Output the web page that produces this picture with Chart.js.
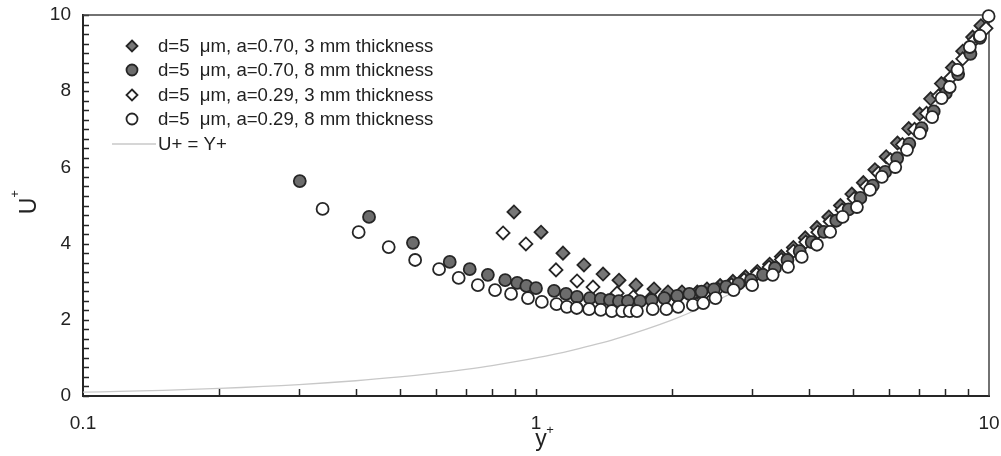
<!DOCTYPE html>
<html lang="en">
<head>
    <meta charset="UTF-8">
    <title>U+ vs y+</title>
    <script src="https://cdn.jsdelivr.net/npm/chart.js"></script>
    <style>
        html, body { margin: 0; padding: 0; background: #fff; }
        #wrap { width: 1001px; height: 456px; position: relative; }
    </style>
</head>
<body>
<div id="wrap"><canvas id="chartCanvas"></canvas></div>
<script>
// d=5 um, a=0.70, 3 mm thickness (grey diamonds)
const xA = [0.894, 1.026, 1.147, 1.276, 1.406, 1.525, 1.662, 1.822, 1.956, 2.10, 2.27, 2.385, 2.55, 2.72, 2.9, 3.08, 3.28, 3.48, 3.7, 3.93, 4.17, 4.43, 4.7, 4.98, 5.28, 5.6, 5.93, 6.28, 6.65, 7.03, 7.43, 7.85, 8.3, 8.75, 9.2, 9.6];
const yA = [4.83, 4.30, 3.75, 3.44, 3.20, 3.04, 2.91, 2.81, 2.73, 2.73, 2.73, 2.81, 2.90, 3.01, 3.13, 3.27, 3.46, 3.66, 3.90, 4.15, 4.42, 4.70, 5.00, 5.30, 5.60, 5.94, 6.28, 6.64, 7.02, 7.40, 7.80, 8.20, 8.62, 9.05, 9.42, 9.72];

// d=5 um, a=0.70, 8 mm thickness (grey circles)
const xB = [0.301, 0.428, 0.535, 0.645, 0.714, 0.783, 0.855, 0.909, 0.952, 1.0, 1.096, 1.165, 1.232, 1.315, 1.39, 1.456, 1.524, 1.595, 1.697, 1.80, 1.92, 2.05, 2.18, 2.32, 2.47, 2.63, 2.80, 2.98, 3.17, 3.37, 3.59, 3.82, 4.06, 4.32, 4.6, 4.9, 5.2, 5.54, 5.9, 6.27, 6.67, 7.1, 7.55, 8.03, 8.55, 9.1, 9.55];
const yB = [5.64, 4.70, 4.02, 3.52, 3.33, 3.18, 3.04, 2.97, 2.89, 2.83, 2.76, 2.68, 2.60, 2.57, 2.55, 2.52, 2.49, 2.49, 2.49, 2.52, 2.57, 2.63, 2.68, 2.74, 2.80, 2.87, 2.95, 3.04, 3.18, 3.36, 3.57, 3.80, 4.04, 4.31, 4.60, 4.90, 5.20, 5.52, 5.88, 6.24, 6.62, 7.03, 7.47, 7.95, 8.45, 8.98, 9.40];

// d=5 um, a=0.29, 3 mm thickness (open diamonds)
const xC = [0.846, 0.95, 1.107, 1.232, 1.336, 1.51, 1.64, 1.785, 1.92, 2.05, 2.2, 2.36, 2.52, 2.7, 2.88, 3.07, 3.27, 3.48, 3.7, 3.94, 4.19, 4.46, 4.74, 5.04, 5.36, 5.7, 6.06, 6.44, 6.85, 7.28, 7.74, 8.23, 8.75, 9.3, 9.85];
const yC = [4.28, 3.99, 3.31, 3.02, 2.86, 2.70, 2.60, 2.55, 2.55, 2.58, 2.62, 2.70, 2.80, 2.92, 3.05, 3.20, 3.38, 3.58, 3.80, 4.04, 4.30, 4.58, 4.88, 5.18, 5.50, 5.85, 6.20, 6.60, 7.00, 7.42, 7.88, 8.35, 8.85, 9.35, 9.65];

// d=5 um, a=0.29, 8 mm thickness (open circles)
const xD = [0.338, 0.406, 0.473, 0.541, 0.611, 0.675, 0.744, 0.812, 0.881, 0.96, 1.03, 1.11, 1.17, 1.23, 1.31, 1.39, 1.47, 1.55, 1.61, 1.67, 1.81, 1.94, 2.06, 2.22, 2.34, 2.49, 2.73, 3.0, 3.33, 3.60, 3.86, 4.17, 4.46, 4.75, 5.11, 5.46, 5.80, 6.21, 6.59, 7.04, 7.49, 7.86, 8.19, 8.52, 9.07, 9.55, 9.98];
const yD = [4.91, 4.30, 3.91, 3.57, 3.33, 3.10, 2.91, 2.78, 2.68, 2.57, 2.47, 2.41, 2.34, 2.31, 2.28, 2.26, 2.23, 2.23, 2.23, 2.23, 2.28, 2.28, 2.34, 2.39, 2.44, 2.57, 2.78, 2.91, 3.18, 3.39, 3.65, 3.97, 4.31, 4.70, 4.96, 5.41, 5.75, 6.01, 6.46, 6.90, 7.32, 7.82, 8.11, 8.56, 9.16, 9.45, 9.97];

// U+ = Y+ reference line
const lineX = [0.1, 0.12, 0.15, 0.2, 0.25, 0.3, 0.4, 0.5, 0.6, 0.7, 0.8, 1, 1.2, 1.5, 2, 2.5, 3, 4, 5, 6, 7, 8, 10];
const lineY = [0.1, 0.12, 0.15, 0.2, 0.25, 0.3, 0.4, 0.5, 0.6, 0.7, 0.8, 1, 1.2, 1.5, 2, 2.5, 3, 4, 5, 6, 7, 8, 10];

const yMinorTicks = [];
for (let i = 0; i <= 40; i++) yMinorTicks.push(i * 0.25);
const xMinorTicks = [0.2, 0.3, 0.4, 0.5, 0.6, 0.7, 0.8, 0.9, 1, 2, 3, 4, 5, 6, 7, 8, 9];

const FONT = "'Liberation Sans', Arial, sans-serif";
const DARK = '#262626';

function pts(xs, ys) {
    return xs.map((x, i) => ({ x: x, y: ys[i] }));
}

// tick marks inside the frame, top/right frame lines, axis titles and legend
const decorPlugin = {
    id: 'decor',
    beforeDatasetsDraw(chart) {
        const ctx = chart.ctx;
        const a = chart.chartArea;
        const xs = chart.scales.x, ys = chart.scales.y;
        ctx.save();
        ctx.strokeStyle = DARK;
        ctx.lineWidth = 1.5;
        yMinorTicks.forEach(v => {
            const py = Math.round(ys.getPixelForValue(v)) + 0.5;
            ctx.beginPath();
            ctx.moveTo(a.left, py);
            ctx.lineTo(a.left + 6, py);
            ctx.stroke();
        });
        xMinorTicks.forEach(v => {
            const px = Math.round(xs.getPixelForValue(v)) + 0.5;
            ctx.beginPath();
            ctx.moveTo(px, a.bottom);
            ctx.lineTo(px, a.bottom - 7);
            ctx.stroke();
        });
        // top and right frame
        ctx.lineWidth = 1.5;
        ctx.strokeStyle = '#444';
        ctx.beginPath();
        ctx.moveTo(a.left, a.top);
        ctx.lineTo(a.right, a.top);
        ctx.lineTo(a.right, a.bottom);
        ctx.stroke();
        ctx.restore();
    },
    afterDraw(chart) {
        const ctx = chart.ctx;
        ctx.save();
        ctx.fillStyle = '#222';
        // axis titles
        ctx.textBaseline = 'middle';
        ctx.textAlign = 'center';
        ctx.font = '23px ' + FONT;
        ctx.fillText('y', 541, 440);
        ctx.font = '13px ' + FONT;
        ctx.fillText('+', 550, 430);
        ctx.save();
        ctx.translate(30, 206);
        ctx.rotate(-Math.PI / 2);
        ctx.font = '23px ' + FONT;
        ctx.fillText('U', 0, 0);
        ctx.font = '13px ' + FONT;
        ctx.fillText('+', 12, -15);
        ctx.restore();

        // legend
        const items = [
            { label: 'd=5  \u03bcm, a=0.70, 3 mm thickness', kind: 'diamond', fill: '#777' },
            { label: 'd=5  \u03bcm, a=0.70, 8 mm thickness', kind: 'circle', fill: '#6c6c6c' },
            { label: 'd=5  \u03bcm, a=0.29, 3 mm thickness', kind: 'diamond', fill: '#fff' },
            { label: 'd=5  \u03bcm, a=0.29, 8 mm thickness', kind: 'circle', fill: '#fff' },
            { label: 'U+ = Y+', kind: 'line' }
        ];
        const rowY = [46, 70, 95, 119, 144];
        ctx.font = '18.6px ' + FONT;
        ctx.textAlign = 'left';
        items.forEach((it, i) => {
            const y = rowY[i];
            const mx = 132;
            ctx.lineWidth = 1.8;
            ctx.strokeStyle = DARK;
            ctx.fillStyle = it.fill;
            if (it.kind === 'circle') {
                ctx.beginPath();
                ctx.arc(mx, y, 5.5, 0, Math.PI * 2);
                ctx.fill();
                ctx.stroke();
            } else if (it.kind === 'diamond') {
                ctx.beginPath();
                ctx.moveTo(mx, y - 5.5);
                ctx.lineTo(mx + 5.5, y);
                ctx.lineTo(mx, y + 5.5);
                ctx.lineTo(mx - 5.5, y);
                ctx.closePath();
                ctx.fill();
                ctx.stroke();
            } else {
                ctx.strokeStyle = '#c8c8c8';
                ctx.lineWidth = 1.5;
                ctx.beginPath();
                ctx.moveTo(112, y);
                ctx.lineTo(156, y);
                ctx.stroke();
            }
            ctx.fillStyle = '#222';
            ctx.fillText(it.label, 158, y + 1);
        });
        ctx.restore();
    }
};

const markerBase = {
    showLine: false,
    borderColor: DARK,
    pointBorderColor: DARK,
    pointBorderWidth: 1.8,
    pointHoverRadius: 6,
    clip: false
};

const ctx = document.getElementById('chartCanvas').getContext('2d');
const chart = new Chart(ctx, {
    type: 'scatter',
    data: {
        datasets: [
            Object.assign({}, markerBase, {
                label: 'd=5  \u03bcm, a=0.29, 8 mm thickness',
                data: pts(xD, yD),
                pointStyle: 'circle', pointRadius: 6,
                pointBackgroundColor: '#fff', backgroundColor: '#fff',
                order: 0
            }),
            Object.assign({}, markerBase, {
                label: 'd=5  \u03bcm, a=0.70, 8 mm thickness',
                data: pts(xB, yB),
                pointStyle: 'circle', pointRadius: 6,
                pointBackgroundColor: '#6c6c6c', backgroundColor: '#6c6c6c',
                order: 1
            }),
            Object.assign({}, markerBase, {
                label: 'd=5  \u03bcm, a=0.29, 3 mm thickness',
                data: pts(xC, yC),
                pointStyle: 'rectRot', pointRadius: 6.5,
                pointBackgroundColor: '#fff', backgroundColor: '#fff',
                order: 2
            }),
            Object.assign({}, markerBase, {
                label: 'd=5  \u03bcm, a=0.70, 3 mm thickness',
                data: pts(xA, yA),
                pointStyle: 'rectRot', pointRadius: 6.5,
                pointBackgroundColor: '#777', backgroundColor: '#777',
                order: 3
            }),
            {
                label: 'U+ = Y+',
                data: pts(lineX, lineY),
                showLine: true,
                borderColor: '#c8c8c8',
                borderWidth: 1.3,
                pointRadius: 0,
                tension: 0.3,
                order: 4
            }
        ]
    },
    options: {
        responsive: true,
        maintainAspectRatio: false,
        animation: false,
        layout: { padding: { top: 15, right: 12, left: 0, bottom: 0 } },
        plugins: {
            legend: { display: false },
            tooltip: { enabled: false }
        },
        scales: {
            x: {
                type: 'logarithmic',
                min: 0.1,
                max: 10,
                grid: { display: false },
                border: { display: true, color: DARK, width: 2 },
                ticks: {
                    autoSkip: false,
                    maxRotation: 0,
                    padding: 8,
                    color: '#222',
                    font: { family: FONT, size: 19 },
                    callback: function (value) {
                        const l = Math.log10(value);
                        if (Math.abs(l - Math.round(l)) < 1e-6) return String(Number(value.toPrecision(3)));
                        return '';
                    }
                },
                afterFit: function (scale) {
                    scale.height = 60;
                    scale.paddingLeft = 0;
                    scale.paddingRight = 0;
                }
            },
            y: {
                min: 0,
                max: 10,
                grid: { display: false },
                border: { display: true, color: DARK, width: 2 },
                ticks: {
                    stepSize: 2,
                    padding: 4,
                    color: '#222',
                    font: { family: FONT, size: 19 }
                },
                afterFit: function (scale) {
                    scale.width = 83;
                    scale.paddingTop = 0;
                    scale.paddingBottom = 0;
                }
            }
        }
    },
    plugins: [decorPlugin]
});
</script>
</body>
</html>
